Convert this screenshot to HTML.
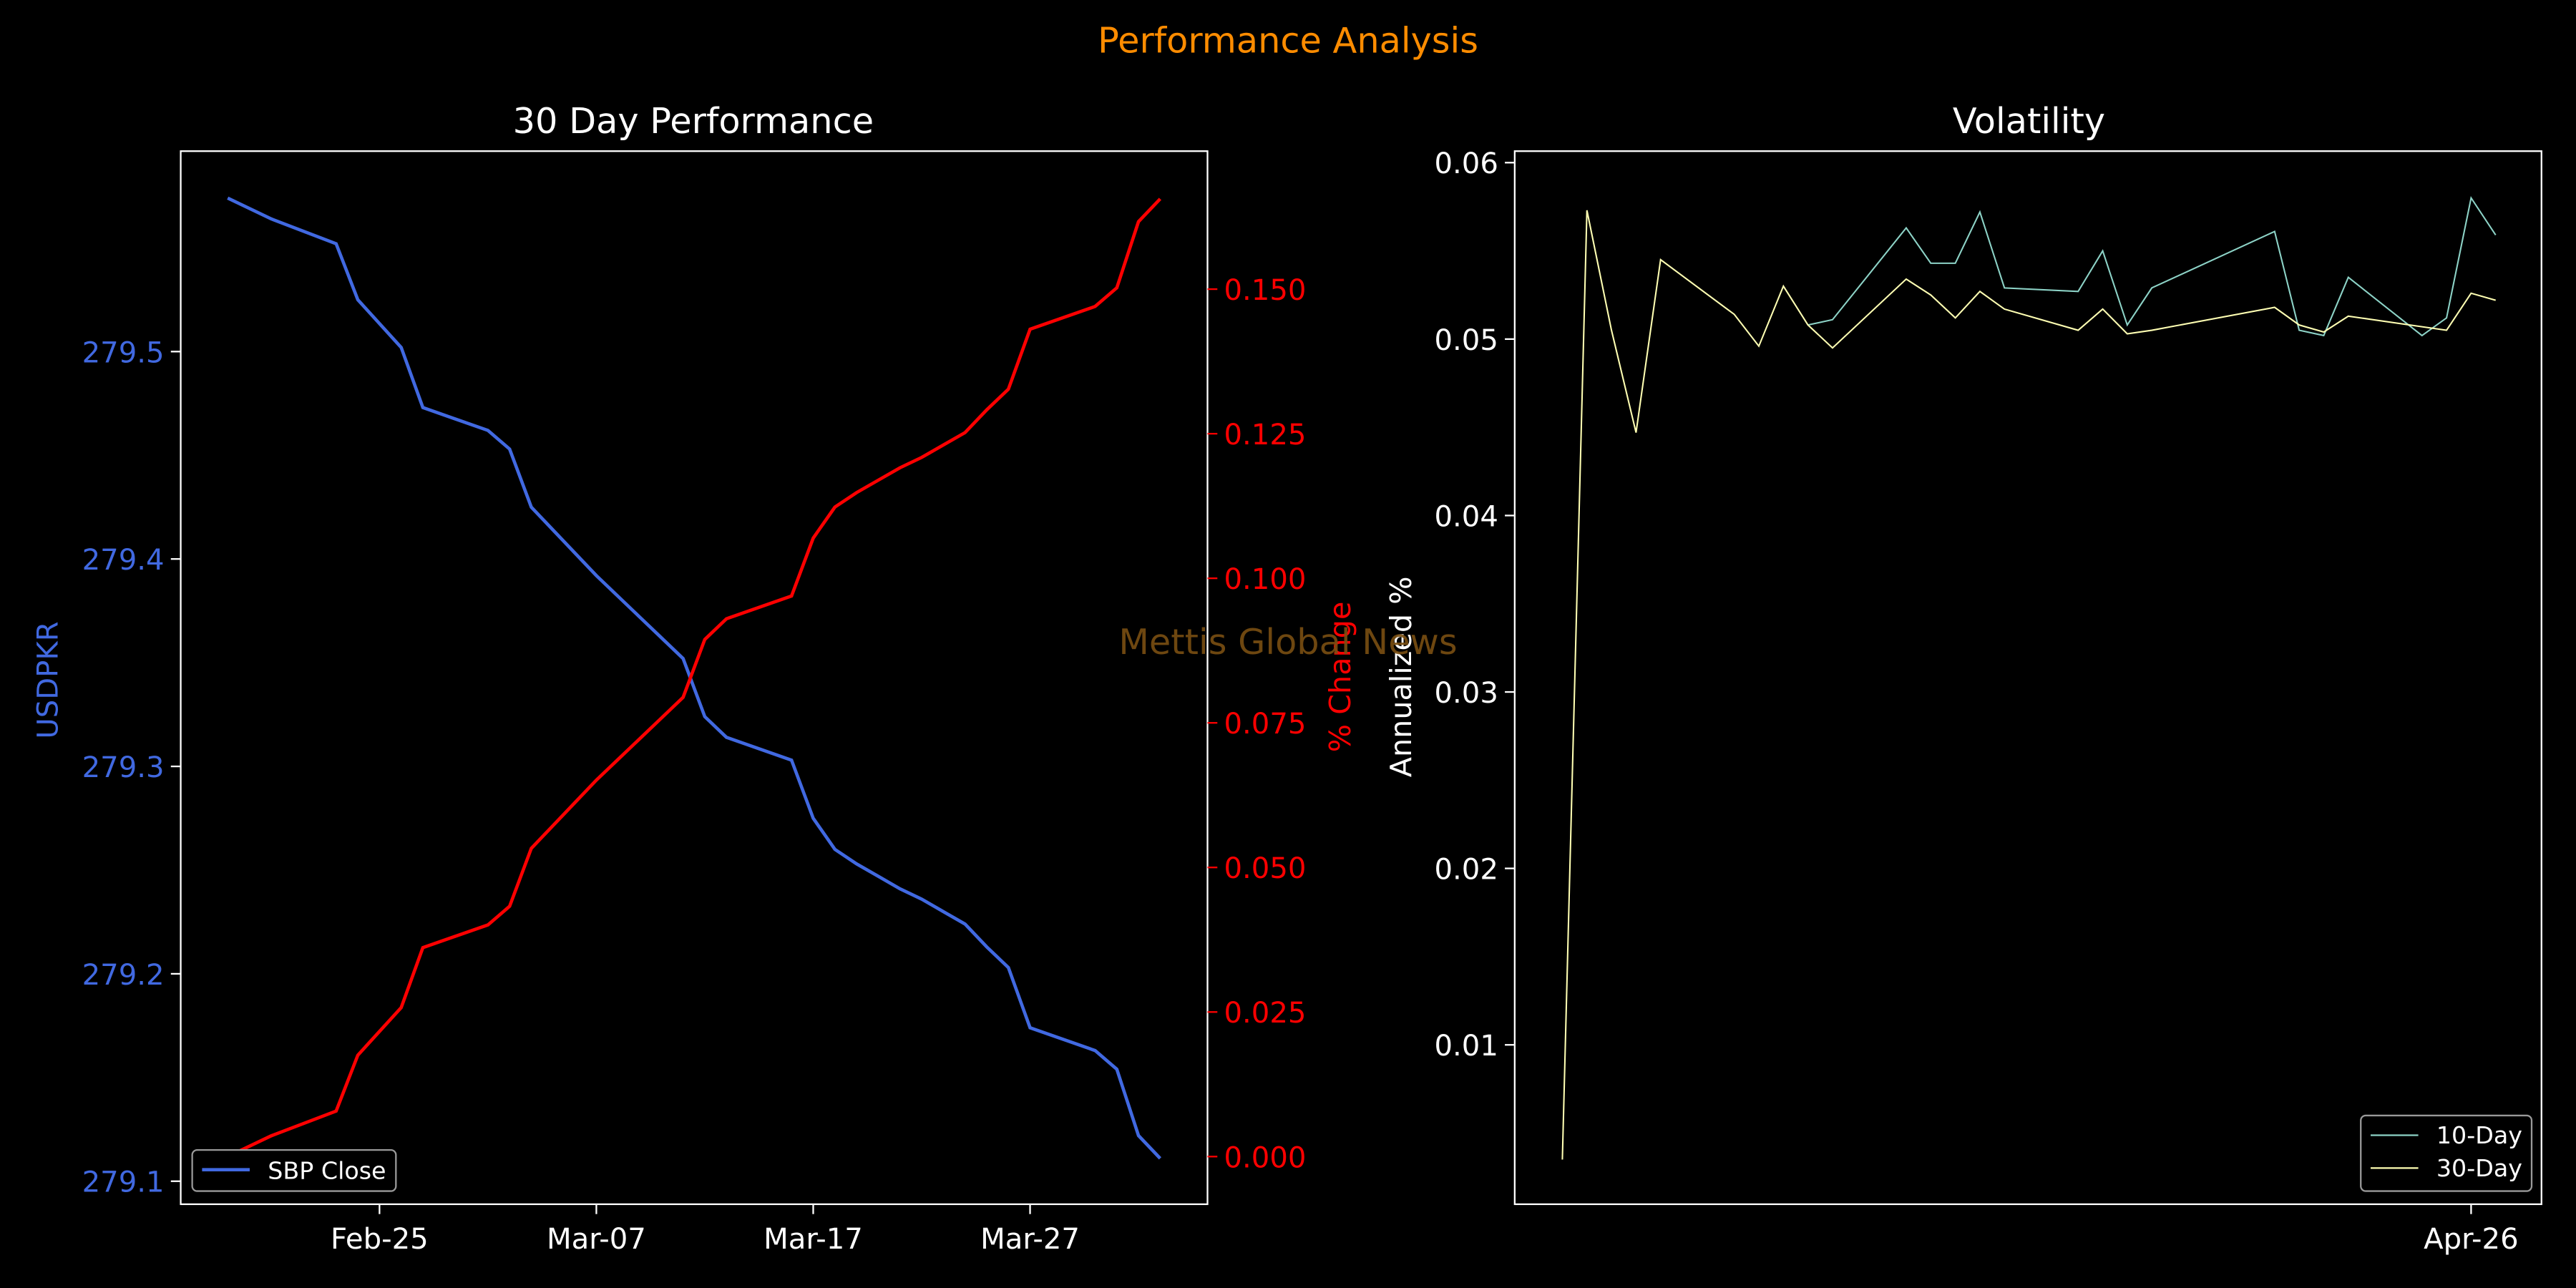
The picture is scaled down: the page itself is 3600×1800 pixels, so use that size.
<!DOCTYPE html>
<html><head><meta charset="utf-8"><style>
html,body{margin:0;padding:0;background:#000;}
svg{display:block;font-family:"DejaVu Sans","Liberation Sans",sans-serif;}
</style></head><body>
<svg id="chart" width="3600" height="1800" viewBox="0 0 1568 784" xmlns="http://www.w3.org/2000/svg">
<rect x="0" y="0" width="1568" height="784" fill="#000"/>
<text x="784" y="32" text-anchor="middle" font-size="21.5" fill="#ff8c00">Performance Analysis</text>
<text x="422" y="81" text-anchor="middle" font-size="21.5" fill="#fff">30 Day Performance</text>
<text x="1235" y="81" text-anchor="middle" font-size="21.5" fill="#fff">Volatility</text>
<g id="left"></g>
<g id="right"></g>
<text x="784" y="398" text-anchor="middle" font-size="21.5" fill="#7a4f12" opacity="0.9">Mettis Global News</text>
</svg>
<script>
// ---- Left chart data ----
const dayOffsets = [0,2,5,6,8,9,12,13,14,15,16,17,18,19,20,21,22,23,26,27,28,29,30,31,32,33,34,35,36,37,40,41,42,43];
const closeValues = [279.574,279.564,279.552,279.525,279.502,279.473,279.462,279.453,279.425,279.414,279.403,279.392,279.382,279.372,279.362,279.352,279.324,279.314,279.303,279.275,279.260,279.253,279.247,279.241,279.236,279.230,279.224,279.213,279.203,279.174,279.163,279.154,279.122,279.111];
const leftTicks = [279.1,279.2,279.3,279.4,279.5];
const pctTicks = [0,0.025,0.05,0.075,0.1,0.125,0.15];
const dateTickDays = [7,17,27,37];
const dateTickLabels = ["Feb-25","Mar-07","Mar-17","Mar-27"];
// ---- Right chart data ----
const volDays30 = [0,1,2,3,4,7,8,9,10,11,14,15,16,17,18,21,22,23,24,29,30,31,32,35,36,37,38];
const vol30 = [0.0035,0.0573,0.0505,0.0447,0.0545,0.0514,0.0496,0.053,0.0508,0.0495,0.0534,0.0525,0.0512,0.0527,0.0517,0.0505,0.0517,0.0503,0.0505,0.0518,0.0508,0.0504,0.0513,0.0507,0.0505,0.0526,0.0522];
const volDays10 = [10,11,14,15,16,17,18,21,22,23,24,29,30,31,32,35,36,37,38];
const vol10 = [0.0508,0.0511,0.0563,0.0543,0.0543,0.0572,0.0529,0.0527,0.055,0.0508,0.0529,0.0561,0.0505,0.0502,0.0535,0.0502,0.0512,0.058,0.0559];
const volTicks = [0.01,0.02,0.03,0.04,0.05,0.06];
const volDateTickDays = [37];
const volDateTickLabels = ["Apr-26"];

const NS="http://www.w3.org/2000/svg";
function mk(tag,attrs,parent,text){const e=document.createElementNS(NS,tag);for(const k in attrs)e.setAttribute(k,attrs[k]);if(text!==undefined)e.textContent=text;parent.appendChild(e);return e;}
const TS=17.5;

// Left axes
const L=document.getElementById('left');
const xL=d=>138.6+13.2*d;
const yL=v=>719-(v-279.1)*1262.5;
const yP=p=>704-p*3520;
const first=closeValues[0];
const pct=closeValues.map(v=>(first-v)/first*100);

let e;
e=mk('rect',{x:110,y:92,width:625,height:641,fill:'none',stroke:'#fff','stroke-width':1},L);


leftTicks.forEach(t=>{
  mk('line',{x1:104,x2:110,y1:yL(t),y2:yL(t),stroke:'#fff'},L);
  e=mk('text',{x:100,y:yL(t)+6.5,'text-anchor':'end','font-size':TS,fill:'#4169e1'},L,t.toFixed(1));
  
  
});
pctTicks.forEach(t=>{
  mk('line',{x1:735,x2:741,y1:yP(t),y2:yP(t),stroke:'#ff0000'},L);
  e=mk('text',{x:745,y:yP(t)+6.5,'font-size':TS,fill:'#ff0000'},L,t.toFixed(3));
  
  
});
dateTickDays.forEach((d,i)=>{
  mk('line',{x1:xL(d),x2:xL(d),y1:733,y2:739,stroke:'#fff'},L);
  e=mk('text',{x:xL(d),y:760,'text-anchor':'middle','font-size':TS,fill:'#fff'},L,dateTickLabels[i]);
  
  
});
e=mk('text',{x:0,y:0,transform:'translate(35,414) rotate(-90)','text-anchor':'middle','font-size':TS,fill:'#4169e1'},L,'USDPKR');


e=mk('text',{x:0,y:0,transform:'translate(822,412) rotate(-90)','text-anchor':'middle','font-size':18,fill:'#ff0000'},L,'% Change');


e=mk('polyline',{points:dayOffsets.map((d,i)=>xL(d)+','+yL(closeValues[i])).join(' '),fill:'none',stroke:'#4169e1','stroke-width':2},L);


e=mk('polyline',{points:dayOffsets.map((d,i)=>xL(d)+','+yP(pct[i])).join(' '),fill:'none',stroke:'#ff0000','stroke-width':2},L);


const lg=mk('g',{},L);


mk('rect',{x:117,y:700,width:124,height:25,rx:3,fill:'#000',stroke:'#999'},lg);
mk('line',{x1:123,x2:152,y1:712,y2:712,stroke:'#4169e1','stroke-width':2},lg);
mk('text',{x:163,y:717.5,'font-size':14.5,fill:'#fff'},lg,'SBP Close');

// Right axes
const R=document.getElementById('right');
const xR=d=>951+14.95*d;
const yR=v=>636-(v-0.01)*10740;
e=mk('rect',{x:922,y:92,width:625,height:641,fill:'none',stroke:'#fff','stroke-width':1},R);


volTicks.forEach(t=>{
  mk('line',{x1:916,x2:922,y1:yR(t),y2:yR(t),stroke:'#fff'},R);
  e=mk('text',{x:912,y:yR(t)+6.5,'text-anchor':'end','font-size':TS,fill:'#fff'},R,t.toFixed(2));
  
  
});
volDateTickDays.forEach((d,i)=>{
  mk('line',{x1:xR(d),x2:xR(d),y1:733,y2:739,stroke:'#fff'},R);
  e=mk('text',{x:xR(d),y:760,'text-anchor':'middle','font-size':TS,fill:'#fff'},R,volDateTickLabels[i]);
  
  
});
e=mk('text',{x:0,y:0,transform:'translate(859,412) rotate(-90)','text-anchor':'middle','font-size':18,fill:'#fff'},R,'Annualized %');


e=mk('polyline',{points:volDays10.map((d,i)=>xR(d)+','+yR(vol10[i])).join(' '),fill:'none',stroke:'#8dd3c7','stroke-width':0.9},R);


e=mk('polyline',{points:volDays30.map((d,i)=>xR(d)+','+yR(vol30[i])).join(' '),fill:'none',stroke:'#ffffb3','stroke-width':0.9},R);


const rg=mk('g',{},R);


mk('rect',{x:1437,y:679,width:104,height:46,rx:3,fill:'#000',stroke:'#999'},rg);
mk('line',{x1:1443,x2:1472,y1:691,y2:691,stroke:'#8dd3c7','stroke-width':1},rg);
mk('text',{x:1483,y:696,'font-size':14.5,fill:'#fff'},rg,'10-Day');
mk('line',{x1:1443,x2:1472,y1:711,y2:711,stroke:'#ffffb3','stroke-width':1},rg);
mk('text',{x:1483,y:716,'font-size':14.5,fill:'#fff'},rg,'30-Day');
</script>
</body></html>
